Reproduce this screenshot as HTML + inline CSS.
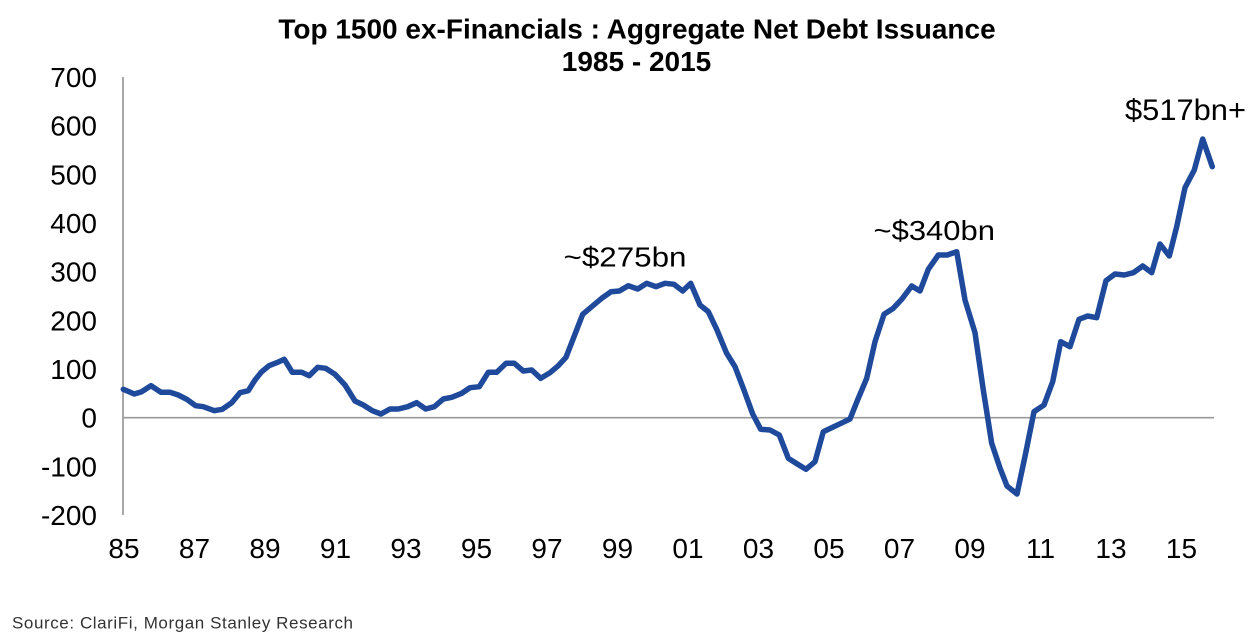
<!DOCTYPE html>
<html>
<head>
<meta charset="utf-8">
<style>
  html, body { margin: 0; padding: 0; background: #ffffff; }
  body { width: 1258px; height: 642px; overflow: hidden; }
  svg { display: block; }
  text { font-family: "Liberation Sans", Arial, sans-serif; }
</style>
</head>
<body>
<svg width="1258" height="642" viewBox="0 0 1258 642" xmlns="http://www.w3.org/2000/svg">
  <rect x="0" y="0" width="1258" height="642" fill="#ffffff"/>

  <!-- Title -->
  <text x="637" y="38.3" text-anchor="middle" font-size="28" font-weight="bold" fill="#000">Top 1500 ex-Financials : Aggregate Net Debt Issuance</text>
  <text x="636.5" y="71" text-anchor="middle" font-size="28" font-weight="bold" fill="#000">1985 - 2015</text>

  <!-- Axes -->
  <line x1="123" y1="77" x2="123" y2="515" stroke="#8c8c8c" stroke-width="1.5"/>
  <line x1="123" y1="417.7" x2="1214" y2="417.7" stroke="#9a9a9a" stroke-width="1.6"/>

  <!-- Y labels -->
  <g font-size="28" fill="#000" text-anchor="end">
    <text x="97" y="87">700</text>
    <text x="97" y="135.7">600</text>
    <text x="97" y="184.4">500</text>
    <text x="97" y="233">400</text>
    <text x="97" y="281.7">300</text>
    <text x="97" y="330.4">200</text>
    <text x="97" y="379">100</text>
    <text x="97" y="427.7">0</text>
    <text x="97" y="476.4">-100</text>
    <text x="97" y="525">-200</text>
  </g>

  <!-- X labels -->
  <g font-size="28" fill="#000" text-anchor="middle">
    <text x="124" y="558">85</text>
    <text x="194.5" y="558">87</text>
    <text x="265" y="558">89</text>
    <text x="335.5" y="558">91</text>
    <text x="406" y="558">93</text>
    <text x="476.5" y="558">95</text>
    <text x="547" y="558">97</text>
    <text x="617.5" y="558">99</text>
    <text x="688" y="558">01</text>
    <text x="758.5" y="558">03</text>
    <text x="829" y="558">05</text>
    <text x="899.5" y="558">07</text>
    <text x="970" y="558">09</text>
    <text x="1040.5" y="558">11</text>
    <text x="1111" y="558">13</text>
    <text x="1181.5" y="558">15</text>
  </g>

  <!-- Series -->
  <polyline fill="none" stroke="#1f4a9b" stroke-width="5.5" stroke-linejoin="round" stroke-linecap="round"
    points="123.3,389.3 134.3,394 141.7,391.7 151,385.7 161,392.3 170,392.3 178.3,395 186.7,399.3 195.7,405.7 203.3,406.7 214.3,410.7 222.3,409.3 231.7,402.7 240,392.7 248.3,390.7 255,380 261.7,371.7 269,365.7 276.7,362.7 284.3,359.3 292.3,372.3 301.7,372.3 309.3,375.7 317.7,367.3 325.7,368.3 335,374.3 345,385 355,401 363.3,405 372.3,410.7 381,414 390,409 398.3,409 407.7,406.7 416.7,402.7 425.7,409 434.3,406.7 443.3,399 451.7,397.3 461.7,393.3 470,387.7 479.3,386.7 488.3,372.3 496.7,372.3 506,363.3 514.3,363.3 523.3,371 531.7,370 540.7,378.3 550,372.7 558.3,365.7 566,357.3 574,336.7 582.7,314.3 591.7,306.7 601.7,298.3 611,291.7 619.3,291 628.3,285.7 637.7,289 646.7,283.3 656,286.7 665,283.3 674,284.3 682.7,291 690.7,283.3 700,305 708.3,311.7 716.7,329.3 726.5,353 735,366.7 743.3,388.3 752.7,414 760.7,429.3 770,430 779.3,435 788.3,458.3 797.3,464 806,469.3 815,461.7 823.3,431.7 832.7,427.3 841,423.3 850,419 857.3,400.7 866.7,378.3 875,341.7 884,314.3 893.3,308.3 901.7,299.3 911.7,286 920,291 928.3,269.3 938.3,255 947.3,255 956.7,251.7 965,300 975,332.7 983.3,390 991.7,443.3 1000,468 1007,486 1017,494 1025.5,454 1034,411.7 1044,405 1052.7,381.7 1060.7,341.7 1070,346.7 1079,319.3 1087.7,316 1096.7,317.7 1106,280.7 1115,274 1124.3,275 1133.3,272.7 1142.7,266 1151.7,272.7 1160,244 1169.3,256 1176.7,226.7 1185,187.7 1194.3,170 1202.7,139 1212.3,166.7"/>

  <!-- Annotations -->
  <text x="563.5" y="266.5" font-size="28" fill="#000" textLength="123" lengthAdjust="spacingAndGlyphs">~$275bn</text>
  <text x="873.5" y="240" font-size="28" fill="#000" textLength="121.5" lengthAdjust="spacingAndGlyphs">~$340bn</text>
  <text x="1125" y="120" font-size="30" fill="#000" textLength="121" lengthAdjust="spacingAndGlyphs">$517bn+</text>

  <!-- Source -->
  <text x="12" y="628.3" font-size="17" fill="#333333" textLength="341" lengthAdjust="spacing">Source: ClariFi, Morgan Stanley Research</text>
</svg>
</body>
</html>
